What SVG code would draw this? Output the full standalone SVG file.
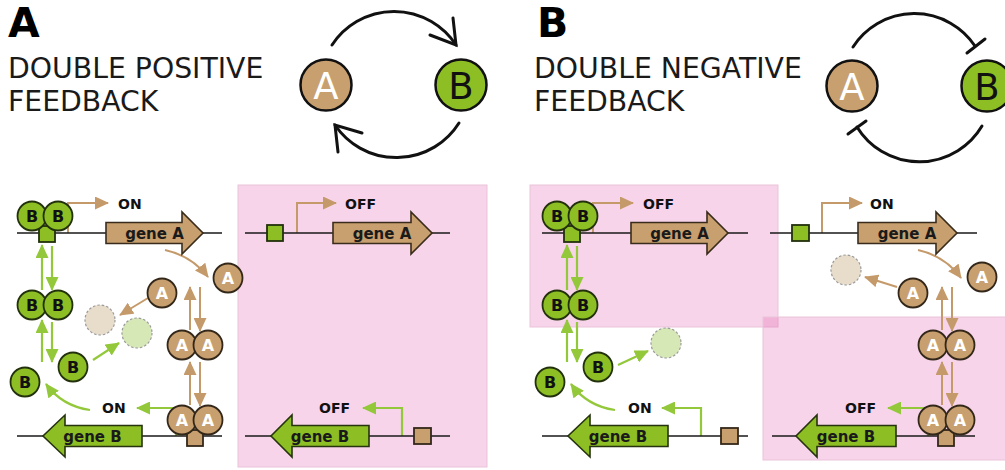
<svg xmlns="http://www.w3.org/2000/svg" width="1005" height="470" viewBox="0 0 1005 470">
<style>
text{font-family:"DejaVu Sans","Liberation Sans",sans-serif}
.ttl{font-size:41px;font-weight:bold;fill:#000}
.sub{font-size:28.3px;fill:#1a1a1a}
.big{font-size:37px;text-anchor:middle}
.lbl{font-size:14px;font-weight:bold;fill:#111}
.gt{font-size:15px;font-weight:bold;fill:#1a1a1a;text-anchor:middle}
.ct{font-size:16px;font-weight:bold;text-anchor:middle}
.pink{fill:#DF53A7;fill-opacity:0.25;stroke:#e9c3da;stroke-width:1}
.dna{stroke:#1a1a1a;stroke-width:1.6;fill:none}
.ga{fill:#C89F6E;stroke:#3a2c1c;stroke-width:1.6}
.gb{fill:#8DBF25;stroke:#26330e;stroke-width:1.6}
.ca{fill:#C89F6E;stroke:#33271a;stroke-width:1.8}
.cb{fill:#8DBF25;stroke:#22300c;stroke-width:1.8}
.ta{fill:#fff}
.tb{fill:#111}
.lb{stroke:#c59a6a;stroke-width:2;fill:none}
.lg{stroke:#93c83a;stroke-width:2.2;fill:none}
.deg{stroke:#9a9a9a;stroke-width:1.2;stroke-dasharray:2.5,2}
.cyc{stroke:#111;stroke-width:3;fill:none;stroke-linecap:round}
.bigc{stroke:#111;stroke-width:2.5}
</style>
<defs>
<marker id="ab" viewBox="0 0 14 13" refX="13" refY="6.5" markerWidth="14" markerHeight="13" markerUnits="userSpaceOnUse" orient="auto"><path d="M0,0 L14,6.5 L0,13 z" fill="#c59a6a"/></marker>
<marker id="ag" viewBox="0 0 14 13" refX="13" refY="6.5" markerWidth="14" markerHeight="13" markerUnits="userSpaceOnUse" orient="auto"><path d="M0,0 L14,6.5 L0,13 z" fill="#93c83a"/></marker>
</defs>
<rect width="1005" height="470" fill="#fff"/>

<g id="backgrounds">
<rect class="pink" x="238" y="185" width="249" height="282"/>
<rect class="pink" x="530" y="185" width="248" height="142"/>
<rect class="pink" x="763" y="317" width="246" height="143"/>
</g>

<g id="titles">
<text class="ttl" x="8" y="37">A</text>
<text class="sub" x="8" y="78">DOUBLE POSITIVE</text>
<text class="sub" x="8" y="111">FEEDBACK</text>
<text class="ttl" x="537" y="37">B</text>
<text class="sub" x="534" y="78">DOUBLE NEGATIVE</text>
<text class="sub" x="534" y="111">FEEDBACK</text>
</g>

<g id="nodeA_top_pos"><circle class="bigc" cx="326" cy="85" r="25.5" fill="#C89F6E"/><text class="big" x="326" y="99" fill="#fff">A</text></g>
<g id="nodeB_top_pos"><circle class="bigc" cx="461" cy="85" r="25.5" fill="#8DBF25"/><text class="big" x="461" y="99" fill="#111">B</text></g>
<g id="nodeA_top_neg"><circle class="bigc" cx="852" cy="86" r="25.5" fill="#C89F6E"/><text class="big" x="852" y="100" fill="#fff">A</text></g>
<g id="nodeB_top_neg"><circle class="bigc" cx="987" cy="86" r="25.5" fill="#8DBF25"/><text class="big" x="987" y="100" fill="#111">B</text></g>

<g id="connectors">
<path class="cyc" d="M332,45 A74,74 0 0 1 456,45"/>
<path class="cyc" d="M453,18 L456,45 L430,35"/>
<path class="cyc" d="M459,123 A74,74 0 0 1 335,125"/>
<path class="cyc" d="M338,152 L335,125 L362,133"/>
<path class="cyc" d="M853,47 A73,73 0 0 1 975,46"/>
<path class="cyc" d="M967,53 L985,39"/>
<path class="cyc" d="M982,126 A73,73 0 0 1 857,127"/>
<path class="cyc" d="M848,134 L866,121"/>

<path class="lb" d="M68,233 V203 H108" marker-end="url(#ab)"/>
<path class="lg" d="M176,436 V408 H137" marker-end="url(#ag)"/>
<path class="lb" d="M165,250 Q192,256 208,277" marker-end="url(#ab)"/>
<path class="lb" d="M148,298 L120,315" marker-end="url(#ab)"/>
<path class="lg" d="M93,360 L119,343" marker-end="url(#ag)"/>
<path class="lg" d="M90,410 Q62,406 46,384" marker-end="url(#ag)"/>
<path class="lg" d="M42,290 V245" marker-end="url(#ag)"/>
<path class="lg" d="M52,246 V290" marker-end="url(#ag)"/>
<path class="lg" d="M42,362 V320" marker-end="url(#ag)"/>
<path class="lg" d="M52,322 V362" marker-end="url(#ag)"/>
<path class="lb" d="M190,330 V287" marker-end="url(#ab)"/>
<path class="lb" d="M200,287 V331" marker-end="url(#ab)"/>
<path class="lb" d="M190,405 V362" marker-end="url(#ab)"/>
<path class="lb" d="M200,362 V406" marker-end="url(#ab)"/>

<path class="lb" d="M297,233 V203 H336" marker-end="url(#ab)"/>
<path class="lg" d="M402,436 V408 H363" marker-end="url(#ag)"/>

<path class="lb" d="M593,233 V203 H633" marker-end="url(#ab)"/>
<path class="lg" d="M701,436 V408 H662" marker-end="url(#ag)"/>
<path class="lg" d="M618,365 L648,351" marker-end="url(#ag)"/>
<path class="lg" d="M615,410 Q587,406 571,384" marker-end="url(#ag)"/>
<path class="lg" d="M567,290 V245" marker-end="url(#ag)"/>
<path class="lg" d="M577,246 V290" marker-end="url(#ag)"/>
<path class="lg" d="M567,362 V320" marker-end="url(#ag)"/>
<path class="lg" d="M577,322 V362" marker-end="url(#ag)"/>

<path class="lb" d="M822,233 V203 H862" marker-end="url(#ab)"/>
<path class="lg" d="M928,436 V408 H888" marker-end="url(#ag)"/>
<path class="lb" d="M918,250 Q945,256 961,278" marker-end="url(#ab)"/>
<path class="lb" d="M897,287 L865,277" marker-end="url(#ab)"/>
<path class="lb" d="M942,330 V287" marker-end="url(#ab)"/>
<path class="lb" d="M952,287 V331" marker-end="url(#ab)"/>
<path class="lb" d="M942,405 V362" marker-end="url(#ab)"/>
<path class="lb" d="M952,362 V406" marker-end="url(#ab)"/>
</g>

<g id="dna">
<path class="dna" d="M17,233 H222 M17,436 H222 M245,233 H450 M245,436 H450 M542,233 H748 M542,436 H748 M770,233 H977 M772,436 H975"/>
</g>

<g id="geneA_posA"><path class="ga" d="M106,222.5 H182 V212 L203,233 L182,254 V243.5 H106 Z"/><text class="gt" x="154.5" y="238.5">gene A</text></g>
<g id="geneB_posA"><path class="gb" d="M142,425.5 H65 V415 L43,436 L65,457 V446.5 H142 Z"/><text class="gt" x="92.5" y="441.5">gene B</text></g>
<g id="geneA_offA"><path class="ga" d="M333,222.5 H411 V212 L432,233 L411,254 V243.5 H333 Z"/><text class="gt" x="382" y="238.5">gene A</text></g>
<g id="geneB_offA"><path class="gb" d="M369,425.5 H292 V415 L271,436 L292,457 V446.5 H369 Z"/><text class="gt" x="320" y="441.5">gene B</text></g>
<g id="geneA_negL"><path class="ga" d="M631,222.5 H707 V212 L728,233 L707,254 V243.5 H631 Z"/><text class="gt" x="679.5" y="238.5">gene A</text></g>
<g id="geneB_negL"><path class="gb" d="M668,425.5 H590 V415 L568,436 L590,457 V446.5 H668 Z"/><text class="gt" x="618" y="441.5">gene B</text></g>
<g id="geneA_negR"><path class="ga" d="M858,222.5 H936 V212 L957,233 L936,254 V243.5 H858 Z"/><text class="gt" x="907" y="238.5">gene A</text></g>
<g id="geneB_negR"><path class="gb" d="M896,425.5 H817 V415 L796,436 L817,457 V446.5 H896 Z"/><text class="gt" x="846" y="441.5">gene B</text></g>

<g id="labels">
<text class="lbl" x="118" y="209">ON</text>
<text class="lbl" x="102" y="413">ON</text>
<text class="lbl" x="345" y="209">OFF</text>
<text class="lbl" x="319" y="413">OFF</text>
<text class="lbl" x="643" y="209">OFF</text>
<text class="lbl" x="628" y="413">ON</text>
<text class="lbl" x="870" y="209">ON</text>
<text class="lbl" x="845" y="413">OFF</text>
</g>

<g id="operators">
<rect class="cb" x="39" y="226" width="16" height="16"/>
<rect class="ca" x="187" y="430" width="16" height="16"/>
<rect class="cb" x="267" y="225" width="16" height="16"/>
<rect class="ca" x="414" y="428" width="17" height="16"/>
<rect class="cb" x="564" y="226" width="16" height="16"/>
<rect class="ca" x="721" y="428" width="17" height="16"/>
<rect class="cb" x="792" y="225" width="17" height="16"/>
<rect class="ca" x="938" y="430" width="16" height="16"/>
</g>

<g id="degraded">
<circle class="deg" cx="100" cy="320" r="15" fill="#E8DCCB"/>
<circle class="deg" cx="137" cy="333" r="15" fill="#D6E8B6"/>
<circle class="deg" cx="666" cy="343" r="15" fill="#D6E8B6"/>
<circle class="deg" cx="846" cy="270" r="15" fill="#E8DCCB"/>
</g>

<g id="BB_bound_A"><circle class="cb" cx="32" cy="216" r="14.5"/><circle class="cb" cx="58" cy="216" r="14.5"/><text class="ct tb" x="32" y="222">B</text><text class="ct tb" x="58" y="222">B</text></g>
<g id="BB_free_A"><circle class="cb" cx="32" cy="305" r="14.5"/><circle class="cb" cx="58" cy="305" r="14.5"/><text class="ct tb" x="32" y="311">B</text><text class="ct tb" x="58" y="311">B</text></g>
<g id="B_mono1_A"><circle class="cb" cx="73" cy="367" r="14.5"/><text class="ct tb" x="73" y="373">B</text></g>
<g id="B_mono2_A"><circle class="cb" cx="25" cy="382" r="14.5"/><text class="ct tb" x="25" y="388">B</text></g>
<g id="A_mono1_A"><circle class="ca" cx="228" cy="278" r="14.5"/><text class="ct ta" x="228" y="284">A</text></g>
<g id="A_mono2_A"><circle class="ca" cx="162" cy="293" r="14.5"/><text class="ct ta" x="162" y="299">A</text></g>
<g id="AA_free_A"><circle class="ca" cx="182" cy="345" r="14.5"/><circle class="ca" cx="208" cy="345" r="14.5"/><text class="ct ta" x="182" y="351">A</text><text class="ct ta" x="208" y="351">A</text></g>
<g id="AA_bound_A"><circle class="ca" cx="182" cy="420" r="14.5"/><circle class="ca" cx="208" cy="420" r="14.5"/><text class="ct ta" x="182" y="426">A</text><text class="ct ta" x="208" y="426">A</text></g>

<g id="BB_bound_B"><circle class="cb" cx="557" cy="216" r="14.5"/><circle class="cb" cx="583" cy="216" r="14.5"/><text class="ct tb" x="557" y="222">B</text><text class="ct tb" x="583" y="222">B</text></g>
<g id="BB_free_B"><circle class="cb" cx="557" cy="305" r="14.5"/><circle class="cb" cx="583" cy="305" r="14.5"/><text class="ct tb" x="557" y="311">B</text><text class="ct tb" x="583" y="311">B</text></g>
<g id="B_mono1_B"><circle class="cb" cx="598" cy="367" r="14.5"/><text class="ct tb" x="598" y="373">B</text></g>
<g id="B_mono2_B"><circle class="cb" cx="550" cy="382" r="14.5"/><text class="ct tb" x="550" y="388">B</text></g>
<g id="A_mono1_B"><circle class="ca" cx="982" cy="277" r="14.5"/><text class="ct ta" x="982" y="283">A</text></g>
<g id="A_mono2_B"><circle class="ca" cx="913" cy="293" r="14.5"/><text class="ct ta" x="913" y="299">A</text></g>
<g id="AA_free_B"><circle class="ca" cx="933" cy="345" r="14.5"/><circle class="ca" cx="960" cy="345" r="14.5"/><text class="ct ta" x="933" y="351">A</text><text class="ct ta" x="960" y="351">A</text></g>
<g id="AA_bound_B"><circle class="ca" cx="933" cy="420" r="14.5"/><circle class="ca" cx="960" cy="420" r="14.5"/><text class="ct ta" x="933" y="426">A</text><text class="ct ta" x="960" y="426">A</text></g>
</svg>
